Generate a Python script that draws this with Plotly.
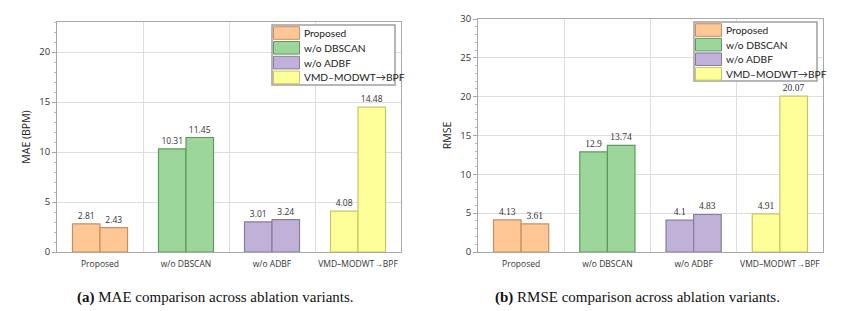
import plotly.graph_objects as go

categories = ["Proposed", "w/o DBSCAN", "w/o ADBF", "VMD\u2013MODWT\u2192BPF"]
mae_a = [2.81, 10.31, 3.01, 4.08]
mae_b = [2.43, 11.45, 3.24, 14.48]
rmse_a = [4.13, 12.9, 4.1, 4.91]
rmse_b = [3.61, 13.74, 4.83, 20.07]

fills = ["#FDC896", "#9DD69A", "#BFB1D7", "#FFFF99"]
edges = ["#C98F5F", "#5E9A5E", "#8A7C9E", "#C8C66A"]

W = 865
H = 311
bw = 0.32


def px(x):
    return x / W


def py(y):
    return 1 - y / H


fig = go.Figure()

panels = [
    (mae_a, mae_b, "x", "y", "Open Sans", 8.5),
    (rmse_a, rmse_b, "x2", "y2", "Liberation Serif", 9.5),
]
for va, vb, xa, ya, tfont, tsize in panels:
    for i, cat in enumerate(categories):
        fig.add_trace(go.Bar(
            x=[cat, cat], y=[va[i], vb[i]],
            offset=[-bw, 0], width=[bw, bw],
            marker=dict(color=fills[i], line=dict(color=edges[i], width=1.2)),
            text=[str(va[i]), str(vb[i])], textposition="outside",
            textfont=dict(family=tfont, size=tsize, color="#333333"),
            cliponaxis=False, name=cat, xaxis=xa, yaxis=ya, showlegend=False,
        ))

axis_common = dict(showline=True, mirror=True, linecolor="#a8a8a8", linewidth=1,
                   gridcolor="#dedede", gridwidth=1, zeroline=False, automargin=False)
xcommon = dict(axis_common, type="category", tickson="boundaries", showgrid=True, ticks="",
               tickangle=0, ticklabelstandoff=4,
               tickfont=dict(family="Open Sans", size=8.5, color="#333333"))
ycommon = dict(axis_common, showgrid=True, ticks="outside", ticklen=4, tickcolor="#a8a8a8",
               tickfont=dict(family="Open Sans", size=9.5, color="#333333"),
               minor=dict(ticks="outside", ticklen=2, tickcolor="#bbbbbb", showgrid=False))

# legend boxes drawn as layout decorations (one entry per category)
shapes = []
annotations = []
legend_boxes = [
    dict(x0=272, x1=395, y0=25, y1=85, sx=273.5, rows=[33.0, 47.8, 62.6, 77.4]),
    dict(x0=694, x1=817, y0=22, y1=81, sx=695.5, rows=[30.0, 44.6, 59.2, 73.8]),
]
for box in legend_boxes:
    shapes.append(dict(type="rect", xref="paper", yref="paper",
                       x0=px(box["x0"]), x1=px(box["x1"]), y0=py(box["y0"]), y1=py(box["y1"]),
                       line=dict(color="#a0a0a0", width=1.5), fillcolor="white", layer="above"))
    for i, cat in enumerate(categories):
        cy = box["rows"][i]
        shapes.append(dict(type="rect", xref="paper", yref="paper",
                           x0=px(box["sx"]), x1=px(box["sx"] + 26), y0=py(cy - 6.3), y1=py(cy + 6.3),
                           line=dict(color=edges[i], width=1), fillcolor=fills[i], layer="above"))
        annotations.append(dict(text=cat, xref="paper", yref="paper",
                                x=px(box["sx"] + 28.5), y=py(cy), xanchor="left", yanchor="middle",
                                showarrow=False,
                                font=dict(family="Lato", size=10.2, color="#222222")))

annotations += [
    dict(text="<b>(a)</b> MAE comparison across ablation variants.", x=px(215), y=py(297),
         xref="paper", yref="paper", showarrow=False, xanchor="center", yanchor="middle",
         font=dict(family="Liberation Serif", size=15, color="#111111")),
    dict(text="<b>(b)</b> RMSE comparison across ablation variants.", x=px(637), y=py(297),
         xref="paper", yref="paper", showarrow=False, xanchor="center", yanchor="middle",
         font=dict(family="Liberation Serif", size=15, color="#111111")),
]

fig.update_layout(
    width=W, height=H,
    margin=dict(l=0, r=0, t=0, b=0),
    paper_bgcolor="white", plot_bgcolor="white",
    showlegend=False,
    xaxis=dict(xcommon, domain=[px(57), px(401)], anchor="y"),
    yaxis=dict(ycommon, domain=[py(252), py(22)], range=[0, 23], dtick=5,
               anchor="x",
               title=dict(text="MAE (BPM)", font=dict(family="Open Sans", size=10.5, color="#222222"),
                          standoff=6)),
    xaxis2=dict(xcommon, domain=[px(478), px(823)], anchor="y2"),
    yaxis2=dict(ycommon, domain=[py(252), py(19)], range=[0, 30], dtick=5,
                anchor="x2",
                title=dict(text="RMSE", font=dict(family="Open Sans", size=10.5, color="#222222"),
                           standoff=6)),
    shapes=shapes,
    annotations=annotations,
)

fig.write_html("out.html", config={"displayModeBar": False},
               post_script="document.body.style.margin='0';document.body.style.overflow='hidden';")
